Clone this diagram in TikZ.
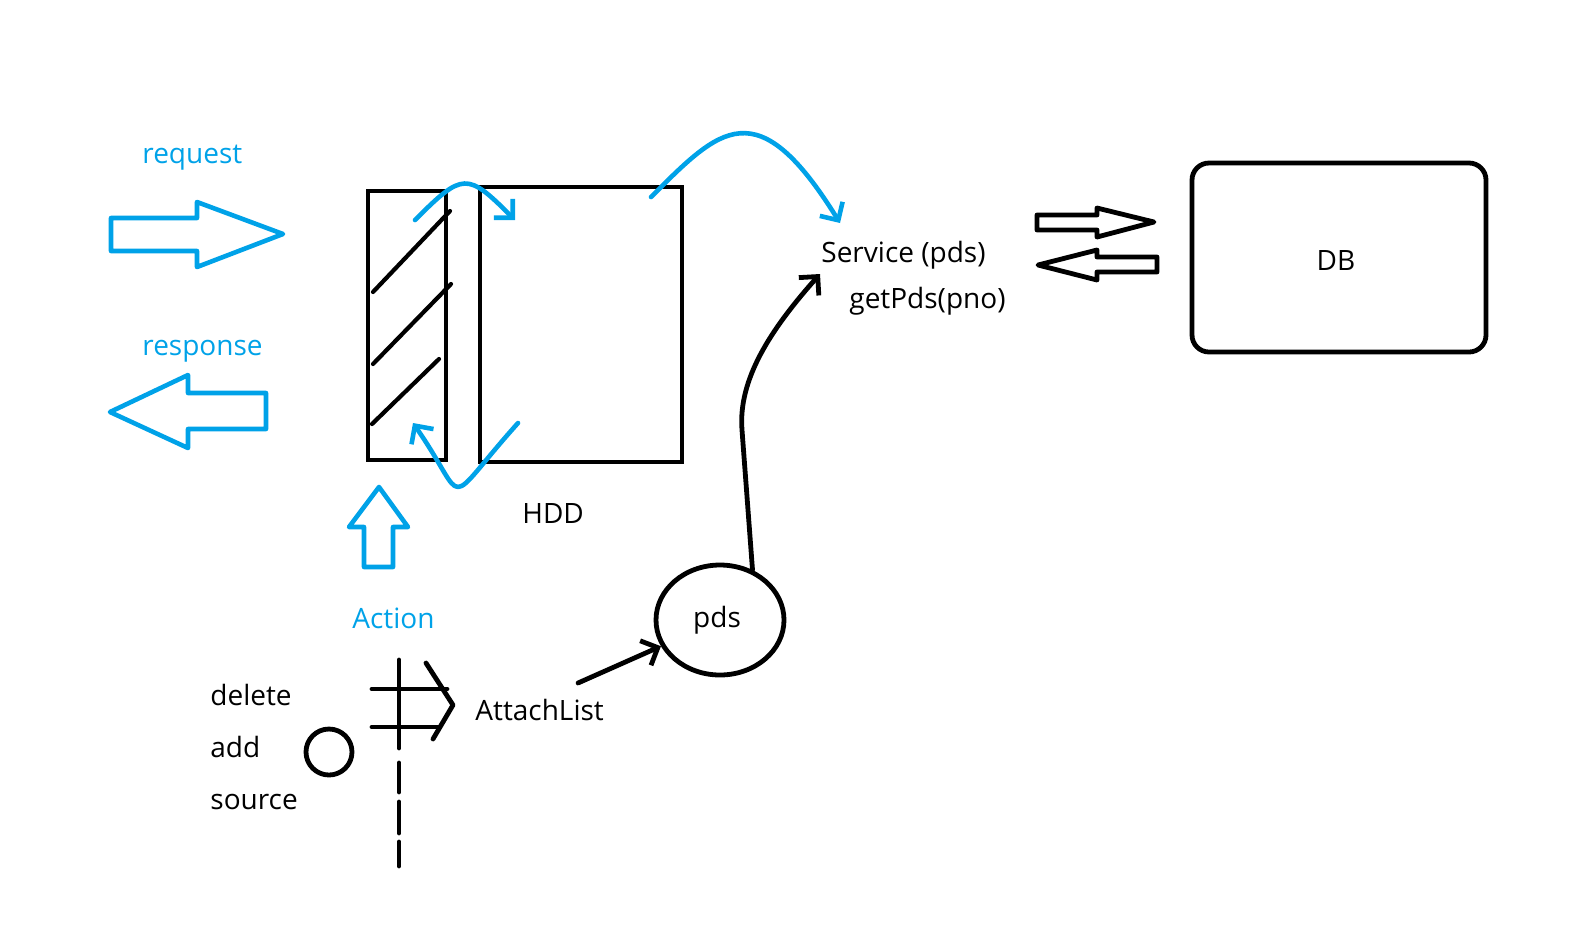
\documentclass[tikz,border=0pt]{standalone}
\usepackage{fontspec}
\setmainfont{Open Sans}
\usetikzlibrary{arrows.meta,shapes.geometric}
\definecolor{pblue}{HTML}{00A2E8}
\begin{document}
\begin{tikzpicture}[x=0.5pt,y=-0.5pt,
  box/.style={draw=black,line width=2.4pt,inner sep=0pt},
  bl/.style={draw=pblue,line width=2.3pt,line join=round,line cap=round},
  blk/.style={draw=black,line width=2.4pt,line join=round,line cap=round},
  hatch/.style={draw=black,line width=2.1pt,line cap=round},
  lbl/.style={inner sep=0pt,anchor=base west,font=\fontsize{14}{16}\selectfont},
  blbl/.style={lbl,text=pblue},
  barb/.style={-{Straight Barb[length=6.7pt,width=13.4pt]}},
]
\useasboundingbox (0,0) rectangle (1578,950);

% boxes
\node[box,minimum width=39pt,minimum height=134.5pt] (cache) at (407,325.5) {};
\node[box,minimum width=101pt,minimum height=137.5pt] (hdd) at (581,324.5) {};
\node[box,rounded corners=8.5pt,minimum width=147pt,minimum height=94.5pt] (db) at (1339,257.5) {};
\node[box,ellipse,minimum width=64pt,minimum height=55pt] (pds) at (720,620) {};
\node[box,circle,minimum size=23pt] (src) at (329,752) {};

% hatching of the cache box
\draw[hatch] (373,292) -- (450,211);
\draw[hatch] (373,364) -- (451,284);
\draw[hatch] (372,424) -- (439,359);

% labels
\node[lbl,anchor=base] (dblbl) at (1336,270) {DB};
\node[lbl,anchor=base] (pdslbl) at (717,627) {pds};
\node[blbl] (request) at (142,163) {request};
\node[blbl] (response) at (142,355) {response};
\node[blbl] (action) at (352,628) {Action};
\node[lbl] (hddlbl) at (522,523) {HDD};
\node[lbl] (service) at (821,262) {Service (pds)};
\node[lbl] (getpds) at (849,308) {getPds(pno)};
\node[lbl] (delete) at (210,705) {delete};
\node[lbl] (add) at (210,757) {add};
\node[lbl] (source) at (210,809) {source};
\node[lbl] (attach) at (475,720) {AttachList};

% block arrows (blue)
\draw[bl] (111,218) -- (197,218) -- (197,202) -- (283,234) -- (197,267) -- (197,251) -- (111,251) -- cycle;
\draw[bl] (110,412) -- (188,375) -- (188,393) -- (266,393) -- (266,429) -- (188,429) -- (188,448) -- cycle;
\draw[bl] (379,487) -- (408,527) -- (393,527) -- (393,567) -- (364,567) -- (364,527) -- (349,527) -- cycle;

% block arrows (black) to/from DB
\draw[blk] (1037,215) -- (1097,215) -- (1097,208) -- (1154,222) -- (1097,237) -- (1097,230) -- (1037,230) -- cycle;
\draw[blk] (1038,265) -- (1097,250) -- (1097,257) -- (1157,257) -- (1157,272) -- (1097,272) -- (1097,280) -- cycle;

% blue curved connectors
\coordinate (c1s) at (415,220);
\coordinate (c1e) at (515,220);
\draw[bl,barb] (c1s) .. controls (463,172) and (467,172) .. (c1e);
\coordinate (c2s) at (518,423);
\coordinate (c2e) at (413,423);
\draw[bl,barb] (c2s) .. controls (440,510) and (470,505) .. (c2e);
\coordinate (c3s) at (651,197);
\coordinate (c3e) at (840,223);
\draw[bl,barb] (c3s) .. controls (720,128) and (757,89) .. (c3e);

% black connectors
\coordinate (svcin) at (820,274);
\draw[blk,barb] (pds.57) -- (742,430) .. controls (738,380) and (770,330) .. (svcin);
\coordinate (alout) at (578,683);
\draw[blk,barb] (alout) -- (pds);

% dashed lifeline with crossings
\draw[blk] (399,660) -- (399,748);
\draw[blk] (399,763) -- (399,792);
\draw[blk] (399,802) -- (399,833);
\draw[blk] (399,842) -- (399,866);
\draw[blk] (372,689) -- (447,689);
\draw[blk] (372,727) -- (438,727);
\draw[blk] (426,663) -- (453,705) -- (433,739);
\end{tikzpicture}
\end{document}
